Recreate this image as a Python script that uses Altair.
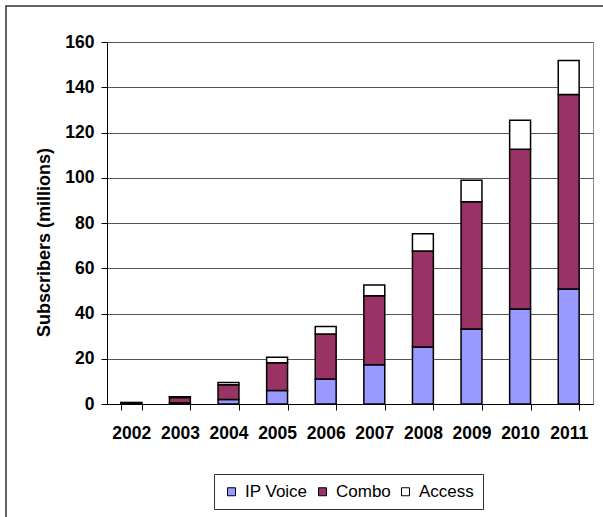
import altair as alt
import pandas as pd

# Subscribers by year and service type (millions)
years = ["2002", "2003", "2004", "2005", "2006", "2007", "2008", "2009", "2010", "2011"]
ip_voice = [0.2, 0.6, 2.0, 6.0, 11.0, 17.3, 25.2, 33.2, 42.0, 50.8]
combo = [0.3, 2.3, 6.5, 12.2, 19.9, 30.5, 42.4, 56.2, 70.6, 86.0]
access = [0.2, 0.3, 1.0, 2.5, 3.3, 4.8, 7.6, 9.5, 12.8, 15.0]

series = ["IP Voice", "Combo", "Access"]
colors = ["#9999FF", "#993366", "#FFFFFF"]

rows = []
for i, y in enumerate(years):
    for k, (name, vals) in enumerate(zip(series, [ip_voice, combo, access])):
        rows.append({"year": y, "type": name, "value": vals[i], "stack_order": k})
df = pd.DataFrame(rows)

FONT = "Liberation Sans"

bars = alt.Chart(df).mark_bar(stroke="black", strokeWidth=1.5).encode(
    x=alt.X(
        "year:N",
        title=None,
        sort=years,
        scale=alt.Scale(paddingInner=0.57, paddingOuter=0.285),
        axis=alt.Axis(
            labelAngle=0,
            labelFont=FONT,
            labelFontSize=17.5,
            labelFontWeight="bold",
            labelColor="black",
            labelPadding=14,
            tickBand="extent",
            tickColor="black",
            tickSize=6,
            domainColor="black",
            domainWidth=1,
            grid=False,
        ),
    ),
    y=alt.Y(
        "value:Q",
        stack="zero",
        scale=alt.Scale(domain=[0, 160], nice=False),
        axis=alt.Axis(
            values=[0, 20, 40, 60, 80, 100, 120, 140, 160],
            title="Subscribers (millions)",
            titleFont=FONT,
            titleFontSize=18,
            titleFontWeight="bold",
            titleColor="black",
            titleAngle=270,
            titleX=-63,
            titleY=200,
            titleAlign="center",
            titleBaseline="middle",
            labelFont=FONT,
            labelFontSize=17.5,
            labelFontWeight="bold",
            labelColor="black",
            labelPadding=7,
            tickColor="black",
            tickSize=6,
            domainColor="black",
            domainWidth=1,
            grid=True,
            gridColor="#555555",
            gridWidth=1,
        ),
    ),
    color=alt.Color(
        "type:N",
        scale=alt.Scale(domain=series, range=colors),
        legend=alt.Legend(
            title=None,
            orient="none",
            direction="horizontal",
            legendX=107,
            legendY=432,
            symbolType="square",
            symbolSize=64,
            symbolStrokeColor="black",
            symbolStrokeWidth=1,
            labelFont=FONT,
            labelFontSize=17,
            labelColor="black",
            labelOffset=5,
            columnPadding=6,
            padding=9,
            strokeColor="#333333",
            fillColor="white",
        ),
    ),
    order=alt.Order("stack_order:Q", sort="ascending"),
)

# Outer frame around the whole figure
frame = alt.Chart(pd.DataFrame({"f": [0]})).mark_rect(
    fill="white", fillOpacity=0, stroke="#333333", strokeWidth=1.5
).encode(
    x=alt.value(-101),
    x2=alt.value(560),
    y=alt.value(-36),
    y2=alt.value(520),
)

chart = alt.layer(frame, bars).properties(
    width=486,
    height=362,
    padding={"left": 107, "top": 42, "right": 10, "bottom": 113},
    autosize=alt.AutoSizeParams(type="none"),
    background="white",
).configure_view(stroke="#888888", strokeWidth=1)

chart.save("out.html", embed_options={"renderer": "svg", "actions": False})
